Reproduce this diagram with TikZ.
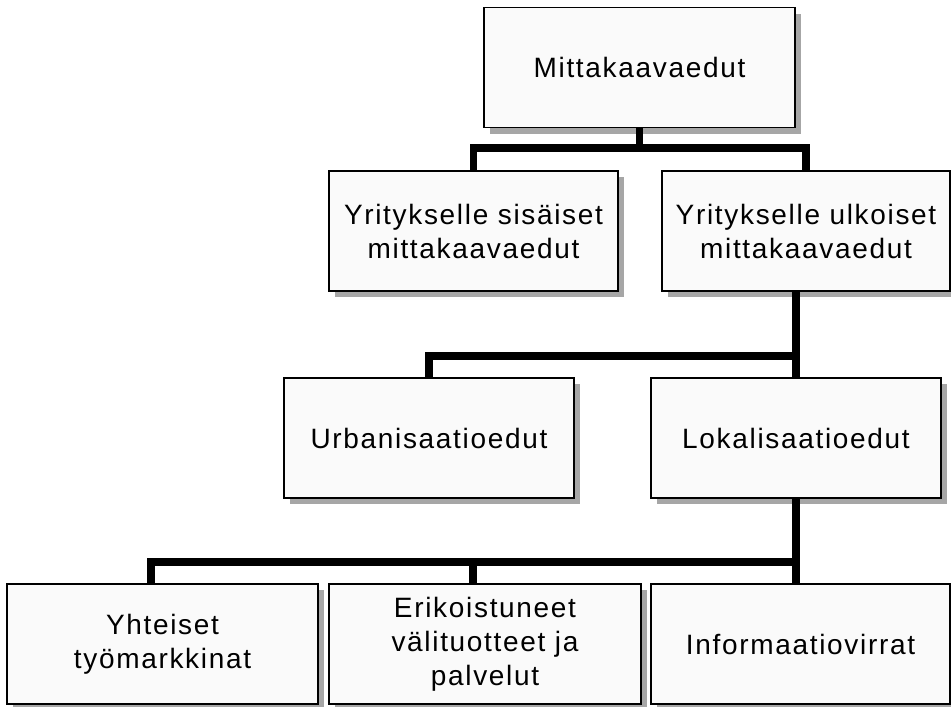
\documentclass[tikz,border=0pt]{standalone}
\usepackage{fontspec}
\setmainfont{Liberation Sans}[LetterSpace=6]
\usetikzlibrary{calc,shadows}
\definecolor{boxfill}{HTML}{FAFAFA}
\definecolor{shadowgray}{HTML}{A6A6A6}
\tikzset{
  orgbox/.style={draw=black, line width=1.6pt, fill=boxfill, rectangle,
    minimum height=120pt, inner sep=0pt, align=center,
    font=\fontsize{28}{34}\selectfont,
    drop shadow={shadow xshift=6pt, shadow yshift=-6pt, fill=shadowgray, opacity=1}},
  conn/.style={line width=7.5pt, black, line join=miter}
}
\begin{document}
\begin{tikzpicture}[x=1pt, y=-1pt]
\useasboundingbox (0,0) rectangle (951,707);
% boxes
\node[orgbox, minimum width=311pt] (top) at (639.5,67.5) {Mittakaavaedut};
\node[orgbox, minimum width=289pt] (l2a) at (473.5,231) {Yritykselle sisäiset\\mittakaavaedut};
\node[orgbox, minimum width=288pt] (l2b) at (806,231) {Yritykselle ulkoiset\\mittakaavaedut};
\node[orgbox, minimum width=290pt] (urb) at (429,438) {Urbanisaatioedut};
\node[orgbox, minimum width=290pt] (lok) at (796,438) {Lokalisaatioedut};
\node[orgbox, minimum width=311pt] (ya) at (162.5,644) {Yhteiset\\työmarkkinat};
\node[orgbox, minimum width=312pt] (yb) at (485,644) {Erikoistuneet\\välituotteet ja\\palvelut};
\node[orgbox, minimum width=299pt] (yc) at (800.5,644) {Informaatiovirrat};
% bar levels
\coordinate (bar1) at (0,148);
\coordinate (bar2) at (0,356);
\coordinate (bar3) at (0,562);
% level 1 -> 2
\draw[conn] (top.south) -- (top.south |- bar1);
\draw[conn] (l2a.north) -- (l2a.north |- bar1) -- (l2b.north |- bar1) -- (l2b.north);
% level 2 -> 3
\draw[conn] (lok.north) -- (lok.north |- l2b.south);
\draw[conn] (urb.north) -- (urb.north |- bar2) -- (lok.north |- bar2);
% level 3 -> 4
\coordinate (xa) at ($(ya.north)+(-11.5,0)$);
\coordinate (xb) at ($(yb.north)+(-12,0)$);
\draw[conn] (lok.south) -- (lok.south |- yc.north);
\draw[conn] (xa) -- (xa |- bar3) -- (lok.south |- bar3);
\draw[conn] (xb) -- (xb |- bar3);
\end{tikzpicture}
\end{document}
